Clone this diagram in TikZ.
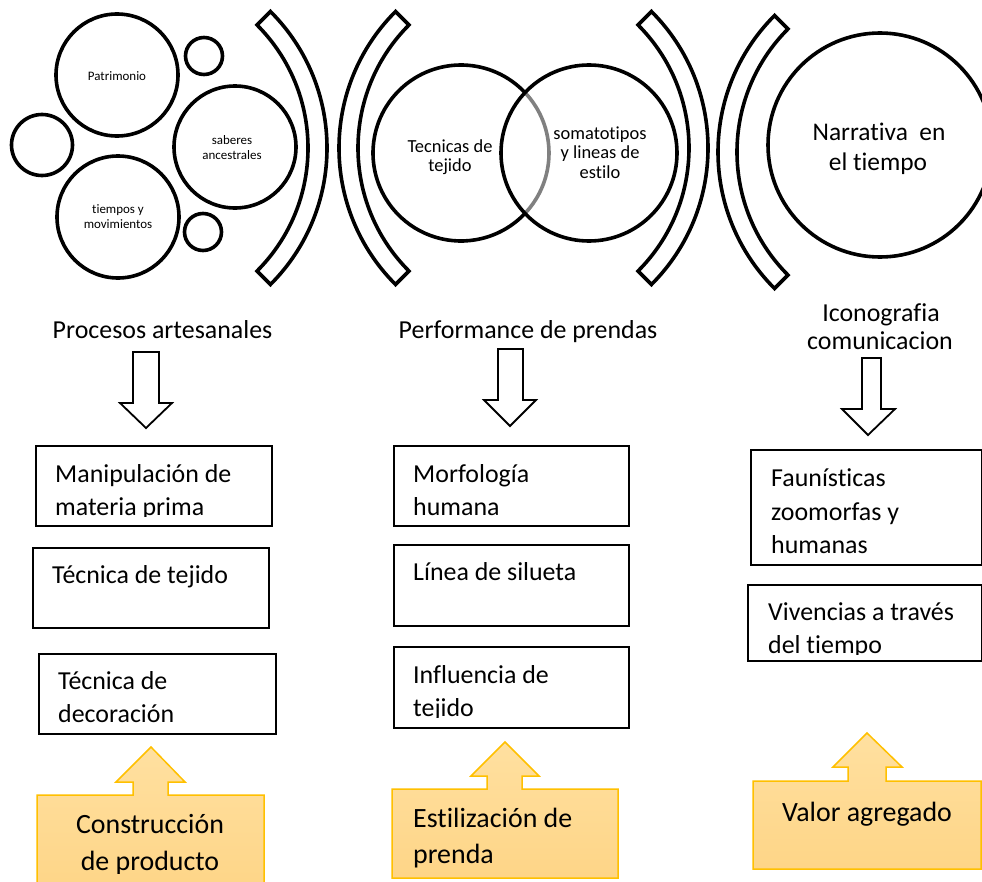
\documentclass[tikz,border=0pt]{standalone}
\usepackage{fontspec}
\setmainfont{Carlito}[Ligatures=NoCommon]
\usetikzlibrary{calc}
\definecolor{gold}{RGB}{255,192,0}
\definecolor{goldfill}{RGB}{254,213,135}
\definecolor{goldlight}{RGB}{255,224,160}
\definecolor{venngray}{RGB}{128,128,128}
\tikzset{
  thickline/.style={line width=3.6bp, draw=black},
  ring/.style={thickline, circle, inner sep=0pt},
  brk/.style={thickline, line join=miter},
  box/.style={draw=black, line width=1.6bp, rectangle, inner sep=0pt, anchor=north west},
  hollowarrow/.style={draw=black, line width=1.8bp, fill=white, line join=miter},
  callout/.style={draw=gold, line width=1.5bp, top color=goldlight, bottom color=goldfill, line join=miter},
  tsmall/.style={inner sep=0pt, anchor=base, font=\fontsize{13}{15}\selectfont},
  tvenn/.style={inner sep=0pt, anchor=base, font=\fontsize{18.5}{20}\selectfont},
  tbig/.style={inner sep=0pt, anchor=base, font=\fontsize{25.5}{30}\selectfont},
  tlab/.style={inner sep=0pt, anchor=base, font=\fontsize{26}{31}\selectfont},
  tbox/.style={inner sep=0pt, anchor=base west, font=\fontsize{26}{31}\selectfont},
  tgold/.style={inner sep=0pt, anchor=base, font=\fontsize{28}{34}\selectfont},
  tgoldw/.style={inner sep=0pt, anchor=base west, font=\fontsize{28}{34}\selectfont},
}
\begin{document}
\begin{tikzpicture}[x=1bp,y=1bp]
\useasboundingbox (0,0) rectangle (982,-882);
\clip (0,0) rectangle (982,-882);
\fill[white] (0,0) rectangle (982,-882);

% ---------- top-left cluster ----------
\node[ring, minimum size=122bp] (patr) at (117,-75) {};
\node[ring, minimum size=37bp] (sm1) at (204,-56) {};
\node[ring, minimum size=61bp] (sm2) at (42,-145) {};
\node[ring, minimum size=122bp] (sab) at (235,-147) {};
\node[ring, minimum size=122bp] (tiem) at (118,-217) {};
\node[ring, minimum size=37bp] (sm3) at (203,-232) {};
\node[tsmall] (patrt) at (117,-80) {Patrimonio};
\node[tsmall] (sabt1) at (232,-144) {saberes};
\node[tsmall] (sabt2) at (232,-159) {ancestrales};
\node[tsmall] (tiet1) at (118,-213) {tiempos y};
\node[tsmall] (tiet2) at (118,-228) {movimientos};

% ---------- brackets ----------
\coordinate (c1) at (134,-148);
\coordinate (c2) at (532,-148);
\coordinate (c3) at (515,-148);
\coordinate (c4) at (911,-152);
\draw[brk] (c1) ++(45:174) arc[start angle=45,end angle=-45,radius=174]
  -- ($(c1)+(-45:193)$) arc[start angle=-45,end angle=45,radius=193] -- cycle;
\draw[brk] (c2) ++(135:174) arc[start angle=135,end angle=225,radius=174]
  -- ($(c2)+(225:193)$) arc[start angle=225,end angle=135,radius=193] -- cycle;
\draw[brk] (c3) ++(45:174) arc[start angle=45,end angle=-45,radius=174]
  -- ($(c3)+(-45:193)$) arc[start angle=-45,end angle=45,radius=193] -- cycle;
\draw[brk] (c4) ++(135:174) arc[start angle=135,end angle=225,radius=174]
  -- ($(c4)+(225:193)$) arc[start angle=225,end angle=135,radius=193] -- cycle;

% ---------- Venn ----------
\coordinate (vl) at (461,-153);
\draw[draw=venngray, line width=3.6bp] (vl) ++(-43.3:88) arc[start angle=-43.3,end angle=43.3,radius=88];
\draw[thickline] (vl) ++(43.3:88) arc[start angle=43.3,end angle=316.7,radius=88];
\node[ring, minimum size=176bp] (vr) at (589,-153) {};
\node[tvenn] (vlt1) at (450,-152) {Tecnicas de};
\node[tvenn] (vlt2) at (450,-171) {tejido};
\node[tvenn] (vrt1) at (600,-139) {somatotipos};
\node[tvenn] (vrt2) at (600,-158.5) {y lineas de};
\node[tvenn] (vrt3) at (600,-178) {estilo};

% ---------- Narrativa ----------
\node[ring, minimum size=224bp] (narr) at (880,-145) {};
\node[tbig] (narrt1) at (879,-140) {Narrativa\ \ en};
\node[tbig] (narrt2) at (878,-170) {el tiempo};

% ---------- column labels ----------
\node[tlab] (lab1) at (162.5,-338) {Procesos artesanales};
\node[tlab] (lab2) at (528,-338) {Performance de prendas};
\node[tlab] (lab3a) at (881,-321) {Iconografia};
\node[tlab] (lab3b) at (880,-349) {comunicacion};

% ---------- hollow down arrows ----------
\draw[hollowarrow] (133,-352) -- (159,-352) -- (159,-403) -- (172,-403) -- (146,-428) -- (120,-403) -- (133,-403) -- cycle;
\draw[hollowarrow] (498,-349) -- (523,-349) -- (523,-400) -- (536,-400) -- (510,-426) -- (484,-400) -- (498,-400) -- cycle;
\draw[hollowarrow] (862,-358) -- (881,-358) -- (881,-409) -- (895,-409) -- (868,-435) -- (842,-409) -- (862,-409) -- cycle;

% ---------- column 1 boxes ----------
\node[box, minimum width=236bp, minimum height=80bp] (m1) at (35,-445) {};
\node[box, minimum width=236bp, minimum height=80bp] (m2) at (32,-547) {};
\node[box, minimum width=237bp, minimum height=80bp] (m3) at (38,-653) {};
\begin{scope}
  \clip (35,-445) rectangle (271,-516.5);
  \node[tbox] (m1a) at (55,-482) {Manipulación de};
  \node[tbox] (m1b) at (55,-515) {materia prima};
\end{scope}
\node[tbox] (m2a) at (52,-583) {Técnica de tejido};
\node[tbox] (m3a) at (58,-689) {Técnica de};
\node[tbox] (m3b) at (58,-722) {decoración};

% ---------- column 2 boxes ----------
\node[box, minimum width=235bp, minimum height=80bp] (p1) at (393,-445) {};
\node[box, minimum width=235bp, minimum height=81bp] (p2) at (393,-544) {};
\node[box, minimum width=235bp, minimum height=81bp] (p3) at (393,-646) {};
\node[tbox] (p1a) at (413,-482) {Morfología};
\node[tbox] (p1b) at (413,-515) {humana};
\node[tbox] (p2a) at (413,-580) {Línea de silueta};
\begin{scope}
  \clip (393,-646) rectangle (628,-717);
  \node[tbox] (p3a) at (413,-683) {Influencia de};
  \node[tbox] (p3b) at (413,-716) {tejido};
\end{scope}

% ---------- column 3 boxes ----------
\node[box, minimum width=231bp, minimum height=115bp] (f1) at (750,-449) {};
\node[box, minimum width=234bp, minimum height=76bp] (f2) at (747,-584) {};
\node[tbox] (f1a) at (771,-486) {Faunísticas};
\node[tbox] (f1b) at (771,-520) {zoomorfas y};
\node[tbox] (f1c) at (771,-553) {humanas};
\begin{scope}
  \clip (747,-584) rectangle (981,-654);
  \node[tbox] (f2a) at (768,-620) {Vivencias a través};
  \node[tbox] (f2b) at (768,-653) {del tiempo};
\end{scope}

% ---------- gold callouts ----------
\path[callout] (37,-795) -- (133,-795) -- (133,-782) -- (116,-782) -- (151,-747) -- (185,-782)
  -- (168,-782) -- (168,-795) -- (264,-795) -- (264,-892) -- (37,-892) -- cycle;
\path[callout] (392,-789) -- (487,-789) -- (487,-776) -- (471,-776) -- (505,-742) -- (539,-776)
  -- (522,-776) -- (522,-789) -- (618,-789) -- (618,-878) -- (392,-878) -- cycle;
\path[callout] (753,-781) -- (848,-781) -- (848,-767) -- (833,-767) -- (867,-733) -- (902,-767)
  -- (886,-767) -- (886,-781) -- (981,-781) -- (981,-869) -- (753,-869) -- cycle;
\begin{scope}
  \clip (37,-795) rectangle (264,-873);
  \node[tgold] (o1a) at (150,-833) {Construcción};
  \node[tgold] (o1b) at (150,-870) {de producto};
\end{scope}
\begin{scope}
  \clip (392,-789) rectangle (618,-867);
  \node[tgoldw] (o2a) at (413,-827) {Estilización de};
  \node[tgoldw] (o2b) at (413,-863) {prenda};
\end{scope}
\node[tgold] (o3a) at (867,-821) {Valor agregado};
\end{tikzpicture}
\end{document}
